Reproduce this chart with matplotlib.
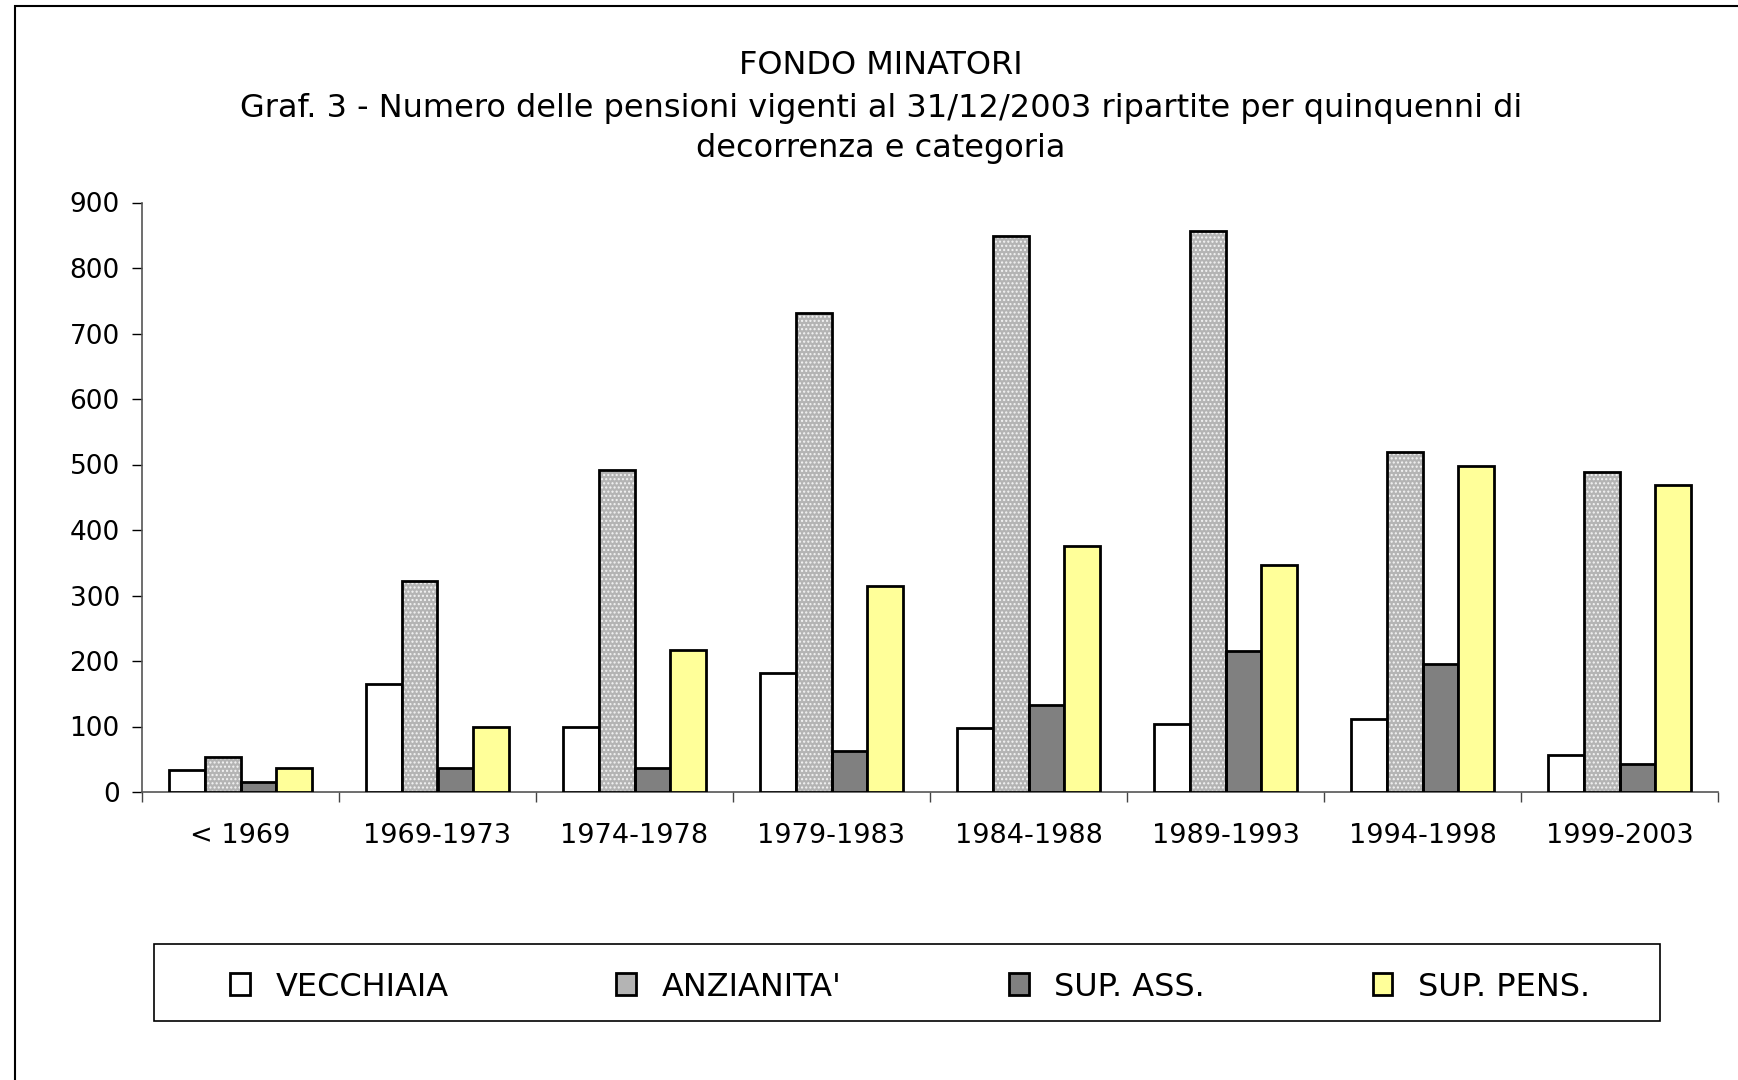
import matplotlib
matplotlib.use("Agg")
import matplotlib.pyplot as plt
import numpy as np
from matplotlib.patches import Patch, Rectangle

categories = ["< 1969", "1969-1973", "1974-1978", "1979-1983", "1984-1988",
              "1989-1993", "1994-1998", "1999-2003"]
vecchiaia = [33, 165, 99, 181, 97, 104, 111, 56]
anzianita = [54, 322, 491, 731, 849, 857, 519, 488]
sup_ass = [15, 36, 36, 62, 133, 215, 195, 42]
sup_pens = [36, 100, 217, 315, 376, 347, 498, 468]
series_names = ["VECCHIAIA", "ANZIANITA'", "SUP. ASS.", "SUP. PENS."]
yticks = [0, 100, 200, 300, 400, 500, 600, 700, 800, 900]

W, H = 1738, 1080
fig = plt.figure(figsize=(W / 100, H / 100), dpi=100)
plt.rcParams['font.family'] = ['DejaVu Sans']

ax = fig.add_axes([142 / W, 1 - 792 / H, (1718 - 142) / W, (792 - 202.5) / H])

n = len(categories)
x = np.arange(n)
bw = 1 / 5.5
offsets = np.array([-1.5, -0.5, 0.5, 1.5]) * bw
lw = 2.0

ax.bar(x + offsets[0], vecchiaia, bw, color="white", edgecolor="black", linewidth=lw, zorder=3)
# patterned bar: gray base with white dot hatch, then black outline
ax.bar(x + offsets[1], anzianita, bw, color="#b4b4b4", edgecolor="#f4f4f4", hatch="....",
       linewidth=0, zorder=3)
ax.bar(x + offsets[1], anzianita, bw, fill=False, edgecolor="black", linewidth=lw, zorder=4)
ax.bar(x + offsets[2], sup_ass, bw, color="#808080", edgecolor="black", linewidth=lw, zorder=3)
ax.bar(x + offsets[3], sup_pens, bw, color="#ffff99", edgecolor="black", linewidth=lw, zorder=3)

ax.set_xlim(-0.5, n - 0.5)
ax.set_ylim(0, 900)
ax.set_yticks(yticks)
ax.tick_params(axis="y", labelsize=19, length=7, width=1, pad=9, colors="black")
ax.set_xticks(np.arange(n + 1) - 0.5)
ax.set_xticklabels([])
ax.set_xticks(x, minor=True)
ax.set_xticklabels(categories, minor=True)
ax.tick_params(axis="x", which="major", length=7, width=1, color="#444444")
ax.tick_params(axis="x", which="minor", length=0, labelsize=19.5, pad=22)

for s in ["top", "right"]:
    ax.spines[s].set_visible(False)
ax.spines["left"].set_color("#555555")
ax.spines["bottom"].set_color("#555555")
ax.spines["left"].set_linewidth(1.2)
ax.spines["bottom"].set_linewidth(1.2)

# titles
tfs = 23
fig.text(881 / W, 1 - 66 / H, "FONDO MINATORI", ha="center", va="center", fontsize=tfs)
fig.text(881 / W, 1 - 108 / H,
         "Graf. 3 - Numero delle pensioni vigenti al 31/12/2003 ripartite per quinquenni di",
         ha="center", va="center", fontsize=tfs)
fig.text(881 / W, 1 - 149 / H, "decorrenza e categoria", ha="center", va="center", fontsize=tfs)

# legend frame
fig.patches.append(Rectangle((154 / W, 1 - 1021 / H), (1660 - 154) / W, (1021 - 944) / H,
                             transform=fig.transFigure, fill=False, edgecolor="black",
                             linewidth=1.2))
handles = [
    Patch(facecolor="white", edgecolor="black", linewidth=lw),
    Patch(facecolor="#b4b4b4", edgecolor="black", linewidth=lw),
    Patch(facecolor="#808080", edgecolor="black", linewidth=lw),
    Patch(facecolor="#ffff99", edgecolor="black", linewidth=lw),
]
fig.legend(handles, series_names, loc="center", ncol=4, mode="expand", frameon=False,
           bbox_to_anchor=(230 / W, 1 - 1012 / H, (1590 - 230) / W, 50 / H),
           fontsize=23, handlelength=0.62, handleheight=0.68, handletextpad=0.8,
           borderpad=0, borderaxespad=0)

# outer frame (top and left edges visible)
fig.patches.append(Rectangle((15 / W, -0.1), 1.2, 1 - 6 / H + 0.1, transform=fig.transFigure,
                             fill=False, edgecolor="black", linewidth=1.5))

fig.savefig("out.png", dpi=100)
